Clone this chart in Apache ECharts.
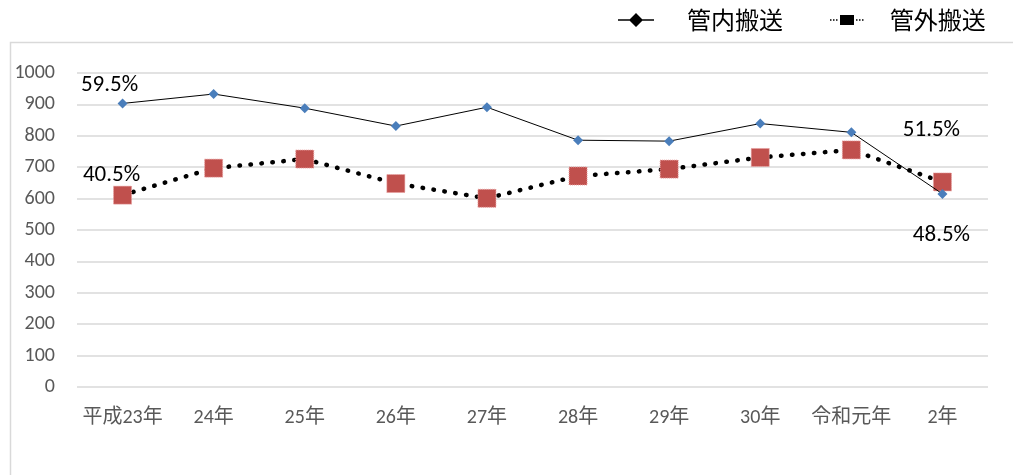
<!DOCTYPE html>
<html><head><meta charset="utf-8">
<script src="https://cdn.jsdelivr.net/npm/echarts@6/dist/echarts.min.js"></script>
<style>html,body{margin:0;padding:0;background:#fff}#c{width:1013px;height:475px}</style>
</head><body><div id="c"></div>
<script>
const categories = ['平成23年','24年','25年','26年','27年','28年','29年','30年','令和元年','2年'];
const inner = [903, 933, 888, 831, 891, 786, 783, 839, 811, 615];
const outer = [611, 697, 726, 648, 601, 672, 694, 731, 755, 653];
const innerLabels = ['59.5%', '', '', '', '', '', '', '', '', '48.5%'];
const outerLabels = ['40.5%', '', '', '', '', '', '', '', '', '51.5%'];
const yTicks = [0, 1000, 100];

const NUMFONT = "Carlito, 'Noto Sans CJK JP', sans-serif";
const CJKFONT = "'Noto Sans CJK JP', sans-serif";
const chart = echarts.init(document.getElementById('c'), null, {renderer: 'canvas'});

function mk(vals, labels, offsets) {
  return vals.map((v, i) => {
    const d = {value: v};
    if (labels[i]) {
      d.label = {show: true, formatter: labels[i], position: 'inside', offset: offsets[i] || [0, 0],
        fontSize: 23, color: '#000', fontFamily: NUMFONT};
    }
    return d;
  });
}

const iconInner = 'path://M0,6.3L36,6.3L36,7.7L0,7.7Z M18,0L25,7L18,14L11,7Z';
const iconOuter = 'path://M0,6.3L1.5,6.3L1.5,7.7L0,7.7Z M3,6.3L4.5,6.3L4.5,7.7L3,7.7Z M6,6.3L7.5,6.3L7.5,7.7L6,7.7Z M10,2L24,2L24,12L10,12Z M26,6.3L27.5,6.3L27.5,7.7L26,7.7Z M29,6.3L30.5,6.3L30.5,7.7L29,7.7Z M32,6.3L33.5,6.3L33.5,7.7L32,7.7Z';

const legendText = {fontSize: 24, color: '#000', fontFamily: CJKFONT};

chart.setOption({
  animation: false,
  graphic: [{type: 'rect', shape: {x: 10.5, y: 42.5, width: 1020, height: 500},
    style: {fill: 'none', stroke: '#d9d9d9', lineWidth: 1.5}, z: -1}],
  legend: [
    {left: 618, top: 8, padding: 0, itemWidth: 36, itemHeight: 14, selectedMode: false,
      textStyle: Object.assign({padding: [0, 0, 0, 28]}, legendText),
      data: [{name: '管内搬送', icon: iconInner, itemStyle: {color: '#000', borderWidth: 0}}]},
    {left: 830, top: 8, padding: 0, itemWidth: 34, itemHeight: 10, selectedMode: false,
      textStyle: Object.assign({padding: [0, 0, 0, 21]}, legendText),
      data: [{name: '管外搬送', icon: iconOuter, itemStyle: {color: '#000', borderWidth: 0}}]}
  ],
  grid: {left: 77, right: 25, top: 73, bottom: 88},
  xAxis: {
    type: 'category', data: categories, boundaryGap: true,
    axisLine: {show: false}, axisTick: {show: false},
    axisLabel: {interval: 0, fontSize: 20, color: '#595959', margin: 21, fontFamily: NUMFONT}
  },
  yAxis: {
    type: 'value', min: yTicks[0], max: yTicks[1], interval: yTicks[2],
    axisLine: {show: false}, axisTick: {show: false},
    axisLabel: {fontSize: 20, color: '#595959', margin: 22, fontFamily: NUMFONT,
      formatter: v => String(v)},
    splitLine: {lineStyle: {color: '#d9d9d9', width: 1.5}}
  },
  series: [
    {
      name: '管内搬送', type: 'line',
      data: mk(inner, innerLabels, {0: [-13, -18], 9: [-1, 41]}),
      symbol: 'diamond', symbolSize: 10,
      itemStyle: {color: '#4a7ebb'},
      lineStyle: {color: '#000', width: 1},
      z: 3
    },
    {
      name: '管外搬送', type: 'line',
      data: mk(outer, outerLabels, {0: [-11, -20], 9: [-11, -52]}),
      symbol: 'rect', symbolSize: 18,
      itemStyle: {color: '#c0504d', borderColor: '#e8a0a0', borderWidth: 1, borderType: 'dotted'},
      lineStyle: {color: '#000', width: 4.5, type: [0.5, 10.5], cap: 'round'},
      z: 2
    }
  ]
});
</script></body></html>
